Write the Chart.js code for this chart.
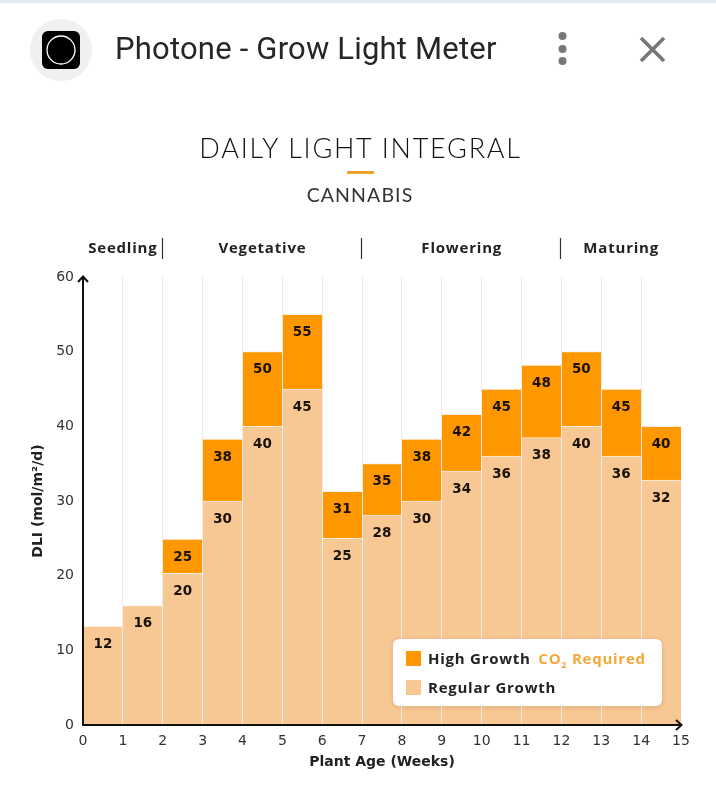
<!DOCTYPE html>
<html>
<head>
<meta charset="utf-8">
<script src="https://cdn.jsdelivr.net/npm/chart.js@4"></script>
<style>
  html, body { margin: 0; padding: 0; background: #fff; overflow: hidden; }
  body { position: relative; width: 716px; height: 795px; font-family: "Open Sans", sans-serif; }
  #myChart { position: absolute; left: 0; top: 0; }
  .abs { position: absolute; white-space: nowrap; }
  #strip { left: 0; top: 0; width: 716px; height: 3px; background: #e3ebf2; }
  #appIcon { left: 30px; top: 19px; }
  #appName { left: 115px; top: 29px; font: 400 31px/40px Roboto, sans-serif; letter-spacing: 0.2px; color: #262626; }
  #appBtns { left: 550px; top: 30px; }
  #heading { left: 0; width: 716px; top: 130px; text-align: center; font: 300 27px/36px Lato, sans-serif; letter-spacing: 1.75px; color: #111; padding-left: 5px; box-sizing: border-box; }
  #rule { left: 347px; top: 171px; width: 27px; height: 3px; background: #f0a12c; }
  #sub { left: 0; width: 716px; top: 181px; text-align: center; font: 400 19.5px/27px Lato, sans-serif; letter-spacing: 1.1px; color: #333; padding-left: 4px; box-sizing: border-box; }
  #legend { left: 393px; top: 639px; width: 269px; height: 67px; background: #fff; border-radius: 6px; box-shadow: 0 1px 5px rgba(0,0,0,.12); }
  .swatch { position: absolute; left: 13px; width: 15px; height: 15px; }
  .legText { position: absolute; left: 35px; font: 700 15px/20px "Open Sans", sans-serif; letter-spacing: 0.75px; color: #222; white-space: nowrap; }
  .co2 { color: #f2a93b; margin-left: 3px; }
  .co2 sub { font-size: 9px; line-height: 0; }
</style>
</head>
<body>
<canvas id="myChart" width="716" height="795"></canvas>
<div class="abs" id="strip"></div>
<svg class="abs" id="appIcon" width="62" height="62">
  <ellipse cx="31" cy="31" rx="31" ry="31" fill="#eef0f1"/>
  <rect x="12" y="12" width="38" height="38" rx="6" fill="#000"/>
  <circle cx="31" cy="31" r="14" fill="none" stroke="#fff" stroke-width="1.3"/>
</svg>
<div class="abs" id="appName">Photone - Grow Light Meter</div>
<svg class="abs" id="appBtns" width="125" height="40">
  <circle cx="12.5" cy="6" r="4" fill="#777"/>
  <circle cx="12.5" cy="19" r="4" fill="#777"/>
  <circle cx="12.5" cy="31" r="4" fill="#777"/>
  <path d="M91 8 L114 31 M114 8 L91 31" stroke="#777" stroke-width="3.6" fill="none"/>
</svg>
<div class="abs" id="heading">DAILY LIGHT INTEGRAL</div>
<div class="abs" id="rule"></div>
<div class="abs" id="sub">CANNABIS</div>
<div class="abs" id="legend">
  <div class="swatch" style="top:12px;background:#ff9800"></div>
  <div class="legText" style="top:9px">High Growth <span class="co2">CO<sub>2</sub> Required</span></div>
  <div class="swatch" style="top:41px;background:#f7c794"></div>
  <div class="legText" style="top:38px">Regular Growth</div>
</div>

<script>
// bar heights, printed numbers kept separately
let weeks = ['1','2','3','4','5','6','7','8','9','10','11','12','13','14','15'];
let regularGrowth = [13.2, 16, 20.3, 30, 40, 45, 25, 28.1, 30, 34, 36, 38.5, 40, 36, 32.8];
let highGrowth = [null, null, 24.9, 38.3, 50, 55, 31.3, 35, 38.3, 41.6, 45, 48.2, 50, 45, 40];
let regularLabels = [12, 16, 20, 30, 40, 45, 25, 28, 30, 34, 36, 38, 40, 36, 32];
let highLabels = [null, null, 25, 38, 50, 55, 31, 35, 38, 42, 45, 48, 50, 45, 40];
let phases = ['Seedling', 'Vegetative', 'Flowering', 'Maturing'];
let phaseEdges = [0, 2, 7, 12, 15];

const tickFont = { family: 'DejaVu Sans', size: 14 };
const boldFont = { family: 'DejaVu Sans', size: 14, weight: 'bold' };

// numbers inside the bars
const barNumbers = {
  id: 'barNumbers',
  afterDraw(chart) {
    const c = chart.ctx;
    c.save();
    c.font = 'bold 13.5px "DejaVu Sans"';
    c.fillStyle = '#1a1208';
    c.textAlign = 'center';
    c.textBaseline = 'middle';
    [regularLabels, highLabels].forEach((labels, i) => {
      chart.getDatasetMeta(i).data.forEach((bar, j) => {
        if (labels[j] !== null) c.fillText(labels[j], bar.x, bar.y + 18);
      });
    });
    c.restore();
  }
};

// stage names and dividers above the plot
const stageRow = {
  id: 'stageRow',
  afterDraw(chart) {
    const c = chart.ctx;
    const xs = chart.scales.x2;
    c.save();
    c.font = 'bold 15px "Open Sans"';
    c.letterSpacing = '0.8px';
    c.fillStyle = '#222';
    c.textAlign = 'center';
    c.textBaseline = 'middle';
    phases.forEach((name, i) => {
      const mid = (phaseEdges[i] + phaseEdges[i + 1]) / 2;
      c.fillText(name, xs.getPixelForValue(mid), 249);
    });
    c.strokeStyle = '#333';
    c.lineWidth = 1.2;
    phaseEdges.slice(1, -1).forEach((e) => {
      const x = Math.round(xs.getPixelForValue(e)) - 0.5;
      c.beginPath();
      c.moveTo(x, 238);
      c.lineTo(x, 259);
      c.stroke();
    });
    c.restore();
  }
};

// arrow heads on both axes
const axisArrows = {
  id: 'axisArrows',
  afterDraw(chart) {
    const c = chart.ctx;
    const a = chart.chartArea;
    c.save();
    c.strokeStyle = '#111';
    c.lineWidth = 2;
    c.beginPath();
    c.moveTo(a.left - 5, a.top + 5);
    c.lineTo(a.left, a.top - 0.5);
    c.lineTo(a.left + 5, a.top + 5);
    c.moveTo(a.right - 5, a.bottom - 5);
    c.lineTo(a.right + 0.5, a.bottom);
    c.lineTo(a.right - 5, a.bottom + 5);
    c.stroke();
    c.restore();
  }
};

let myChart = new Chart(document.getElementById('myChart'), {
  type: 'bar',
  data: {
    labels: weeks,
    datasets: [
      {
        label: 'Regular Growth',
        data: regularGrowth,
        backgroundColor: '#f7c794',
        borderColor: '#fdeedd',
        borderWidth: { top: 1, left: 0, right: 0, bottom: 0 },
        borderSkipped: false
      },
      {
        label: 'High Growth',
        data: highGrowth,
        backgroundColor: '#ff9800',
        borderColor: '#fdeedd',
        borderWidth: { top: 1, left: 0, right: 0, bottom: 0 },
        borderSkipped: false
      }
    ]
  },
  options: {
    responsive: false,
    animation: false,
    layout: { padding: { top: 277, right: 35, left: 0, bottom: 24 } },
    plugins: { legend: { display: false }, tooltip: { enabled: false } },
    datasets: { bar: { barPercentage: 1, categoryPercentage: 1, grouped: false } },
    scales: {
      x: { display: false },
      x2: {
        type: 'linear',
        axis: 'x',
        position: 'bottom',
        offset: false,
        min: 0,
        max: 15,
        afterFit(s) { s.height = 46; },
        ticks: { stepSize: 1, autoSkip: false, maxRotation: 0, padding: 8, color: '#333', font: tickFont },
        border: { color: '#111', width: 2, z: 2 },
        grid: {
          offset: false,
          z: 1,
          drawTicks: false,
          lineWidth: 1,
          color: (ctx) => (ctx.tick && ctx.tick.value > 0 && ctx.tick.value < 15 ? '#ebebeb' : 'transparent')
        },
        title: { display: true, text: 'Plant Age (Weeks)', color: '#222', font: boldFont, padding: { top: 4, bottom: 0 } }
      },
      y: {
        min: 0,
        max: 60,
        afterFit(s) { s.width = 83; },
        ticks: { stepSize: 10, padding: 9, color: '#333', font: tickFont },
        border: { color: '#111', width: 2, z: 2 },
        grid: { display: false, drawTicks: false },
        title: { display: true, text: 'DLI (mol/m²/d)', color: '#222', font: boldFont, padding: { top: 30, bottom: 0 } }
      }
    }
  },
  plugins: [barNumbers, stageRow, axisArrows]
});
</script>
</body>
</html>
